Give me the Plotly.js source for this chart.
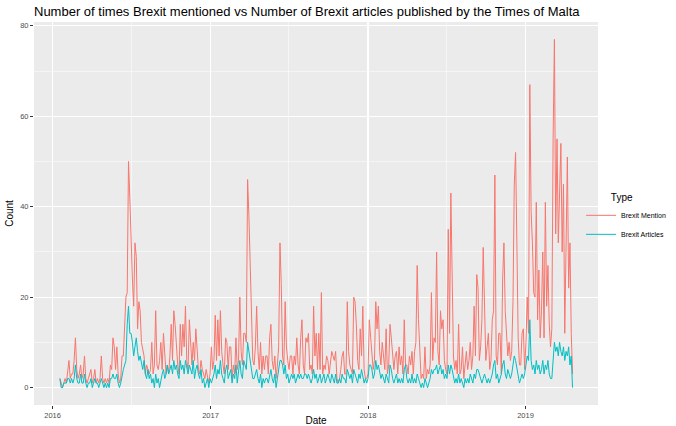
<!DOCTYPE html>
<html>
<head>
<meta charset="utf-8">
<script src="https://cdn.plot.ly/plotly-3.0.1.min.js"></script>
<style>
html,body{margin:0;padding:0;background:#fff;}
#chart{width:676px;height:426px;}
</style>
</head>
<body>
<div id="chart"></div>
<script>
// Series start date and spacing of the readings (every 3 days)
const startDate = '2016-01-18';
const stepDays = 3;

// Number of times "Brexit" was mentioned
const brexitMention = [
  2,1,0,1,2,1,3,6,2,3,
  3,6,11,4,2,3,5,2,3,7,
  2,1,2,3,4,1,2,4,1,2,
  1,2,7,2,1,2,1,2,1,5,
  4,11,9,4,9,3,1,2,7,7,
  15,20,21,50,42,30,24,18,32,29,
  13,19,17,10,8,7,3,5,4,3,
  4,10,3,5,17,5,4,6,10,4,
  12,8,3,5,3,7,14,6,17,14,
  8,5,3,14,7,14,9,18,6,4,
  15,8,5,10,6,13,8,4,3,6,
  4,3,2,4,2,1,3,9,4,6,
  16,6,15,7,17,8,5,3,11,10,
  4,9,9,2,5,3,11,4,6,20,
  8,5,12,12,10,46,38,26,19,6,
  5,9,18,8,4,10,3,7,4,7,
  7,3,11,14,6,4,7,2,5,9,
  32,23,7,5,19,9,6,4,7,7,
  3,7,5,11,5,3,11,15,5,3,
  11,10,12,4,5,3,18,7,12,4,
  12,4,21,3,5,4,7,6,3,5,
  8,7,6,8,2,1,2,4,7,8,
  3,3,19,8,5,4,3,20,19,14,
  6,4,13,7,18,4,2,2,3,15,
  11,9,4,6,19,13,18,8,5,10,
  6,4,13,3,5,14,11,7,4,7,
  8,3,9,5,7,3,15,5,5,3,
  7,5,8,3,8,10,27,15,8,2,
  3,2,9,2,4,3,5,21,6,11,
  10,30,8,5,17,13,15,6,4,3,
  35,12,43,26,7,4,6,3,14,3,
  4,9,2,5,8,4,6,10,4,7,
  18,7,25,22,6,9,15,31,14,6,
  9,12,4,6,15,17,47,7,5,12,
  12,3,24,32,17,10,7,10,6,8,
  19,45,52,32,11,5,5,12,13,4,
  10,20,12,67,39,32,21,20,41,15,
  26,11,17,30,11,41,18,27,14,9,
  13,55,77,34,55,32,44,54,30,45,
  12,33,51,22,32,12,3
];

// Number of Brexit articles published
const brexitArticles = [
  2,0,0,1,1,1,2,2,1,2,
  1,2,5,2,1,1,3,1,1,3,
  1,0,1,1,2,0,1,2,1,1,
  0,1,2,1,0,1,0,1,0,2,
  2,3,2,2,3,1,0,1,3,4,
  5,6,14,18,12,12,10,7,9,11,
  8,6,7,5,4,6,3,2,4,2,
  3,1,2,0,3,1,2,0,2,3,
  4,2,3,5,3,4,5,3,6,4,
  5,3,2,6,4,5,3,6,4,3,
  5,4,3,6,2,4,5,3,2,4,
  1,2,0,1,2,0,2,1,2,3,
  5,2,4,3,6,3,2,1,4,5,
  2,3,4,1,3,2,5,1,3,6,
  3,2,6,5,4,10,8,5,3,2,
  2,3,4,2,1,3,0,2,1,2,
  2,1,3,4,2,1,3,0,2,4,
  6,6,5,3,5,2,3,1,2,3,
  2,3,1,2,3,2,3,2,2,3,
  3,2,3,2,1,2,4,2,3,1,
  2,3,1,2,3,1,2,3,2,1,
  3,2,1,3,1,1,2,1,3,2,
  2,1,4,3,2,3,1,4,3,2,
  1,3,2,4,2,1,2,1,2,5,
  5,4,2,3,6,4,5,3,2,3,
  2,1,3,2,1,5,4,2,1,2,
  3,1,2,1,2,1,4,5,2,1,
  2,1,3,1,2,1,3,2,1,0,
  1,0,2,1,0,1,2,4,3,4,
  4,5,3,4,5,3,4,2,3,2,
  5,3,5,4,2,1,2,1,3,1,
  2,1,0,2,1,2,1,3,2,1,
  3,2,4,4,3,2,1,2,3,2,
  1,2,1,2,3,5,6,2,3,1,
  2,3,5,6,3,2,4,3,2,3,
  5,7,6,4,2,1,2,3,2,3,
  5,7,6,15,6,4,5,3,6,4,
  5,3,4,6,3,5,4,6,3,2,
  2,7,10,8,9,7,10,8,7,9,
  6,8,7,9,5,7,0
];

const seriesNames = ['Brexit Mention', 'Brexit Articles'];
const seriesColors = ['#F8766D', '#00BFC4'];
const yTickVals = [0, 20, 40, 60, 80];
const xTickVals = ['2016-01-01', '2017-01-01', '2018-01-01', '2019-01-01'];
const xTickText = ['2016', '2017', '2018', '2019'];

function buildDates(start, step, n) {
  const base = new Date(start + 'T00:00:00Z').getTime();
  const out = [];
  for (let i = 0; i < n; i++) {
    const d = new Date(base + i * step * 86400000);
    out.push(d.toISOString().slice(0, 10));
  }
  return out;
}
const dates = buildDates(startDate, stepDays, brexitMention.length);

const traces = [brexitMention, brexitArticles].map((vals, k) => ({
  type: 'scatter',
  mode: 'lines',
  x: dates,
  y: vals,
  name: seriesNames[k],
  line: {color: seriesColors[k], width: 1},
  hoverinfo: 'x+y+name'
}));

const font = 'Liberation Sans, Arial, Helvetica, sans-serif';

const layout = {
  width: 676,
  height: 426,
  margin: {l: 34, r: 78, t: 22, b: 21, pad: 0, autoexpand: false},
  paper_bgcolor: '#FFFFFF',
  plot_bgcolor: '#EBEBEB',
  font: {family: font, color: '#4D4D4D', size: 7},
  title: {
    text: 'Number of times Brexit mentioned vs Number of Brexit articles published by the Times of Malta',
    x: 0, xref: 'paper', xanchor: 'left',
    y: 0.972, yref: 'container', yanchor: 'middle',
    font: {family: font, size: 13, color: '#000000'}
  },
  xaxis: {
    type: 'date',
    range: ['2015-11-19', '2019-06-18'],
    tickvals: xTickVals,
    ticktext: xTickText,
    ticks: 'outside', ticklen: 3, tickwidth: 1, tickcolor: '#333333',
    showgrid: true, gridcolor: '#FFFFFF', gridwidth: 1.1,
    minor: {dtick: 'M6', tick0: '2016-01-01', showgrid: true, gridcolor: '#FFFFFF', gridwidth: 0.5},
    zeroline: false, showline: false, automargin: false,
    tickfont: {size: 7.5, color: '#4D4D4D'},
    title: {text: 'Date', font: {size: 10, color: '#000000'}, standoff: 3}
  },
  yaxis: {
    range: [-3.85, 80.85],
    tickvals: yTickVals,
    ticks: 'outside', ticklen: 3, tickwidth: 1, tickcolor: '#333333',
    showgrid: true, gridcolor: '#FFFFFF', gridwidth: 1.1,
    minor: {dtick: 10, tick0: 0, showgrid: true, gridcolor: '#FFFFFF', gridwidth: 0.5},
    zeroline: false, showline: false, automargin: false,
    tickfont: {size: 7.5, color: '#4D4D4D'},
    title: {text: 'Count', font: {size: 10, color: '#000000'}, standoff: 4}
  },
  showlegend: true,
  legend: {
    x: 0.970, xanchor: 'left', y: 0.567, yanchor: 'top',
    bgcolor: 'rgba(0,0,0,0)',
    font: {size: 7, color: '#000000'},
    title: {text: '\u00a0\u00a0\u00a0\u00a0\u00a0\u00a0\u00a0\u00a0\u00a0\u00a0Type', font: {size: 10, color: '#000000'}},
    tracegroupgap: 0,
    itemwidth: 30
  }
};

Plotly.newPlot('chart', traces, layout, {displayModeBar: false, staticPlot: true});
</script>
</body>
</html>
